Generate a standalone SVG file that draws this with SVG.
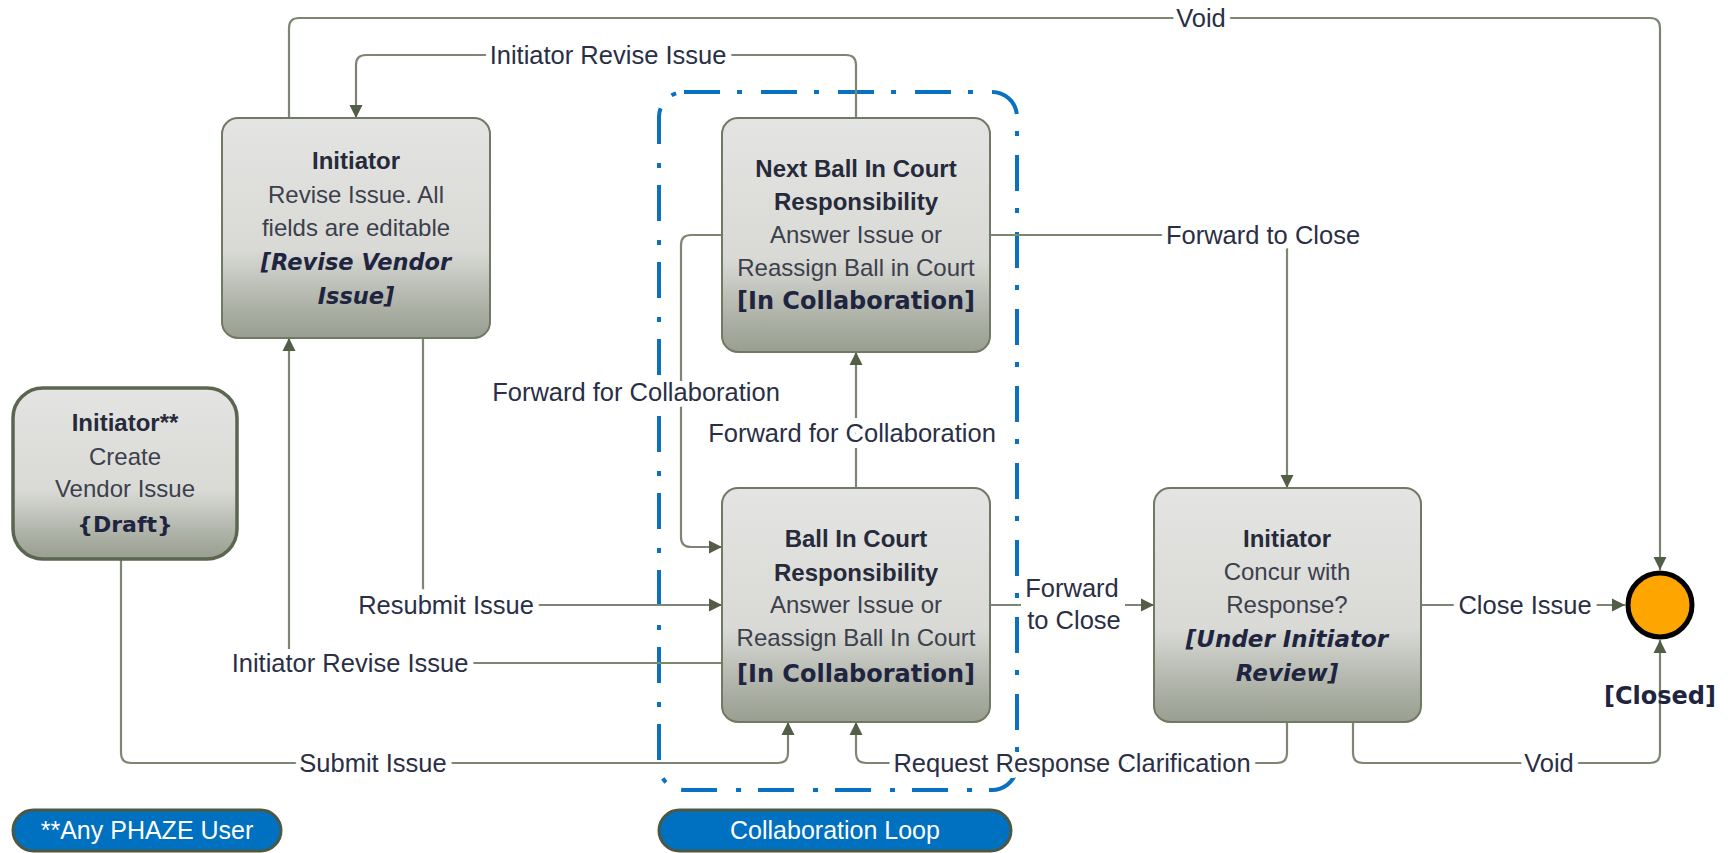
<svg xmlns="http://www.w3.org/2000/svg" width="1730" height="853" viewBox="0 0 1730 853">
  <defs>
    <linearGradient id="boxGrad" x1="0" y1="0" x2="0" y2="1">
      <stop offset="0" stop-color="#e4e5e2"/>
      <stop offset="0.6" stop-color="#d9dad6"/>
      <stop offset="0.85" stop-color="#aeb2a7"/>
      <stop offset="1" stop-color="#989e90"/>
    </linearGradient>
    <marker id="arrow" markerUnits="userSpaceOnUse" markerWidth="14" markerHeight="14" refX="13" refY="7" orient="auto">
      <path d="M0,0.5 L13,7 L0,13.5 z" fill="#525e45"/>
    </marker>
    <style>
      .box { fill: url(#boxGrad); stroke: #707963; stroke-width: 2; }
      .conn { fill: none; stroke: #7d8672; stroke-width: 2.2; }
      .title { font-family: "Liberation Sans", Arial, sans-serif; font-weight: bold; font-size: 24px; fill: #262a3a; text-anchor: middle; }
      .body { font-family: "Liberation Sans", Arial, sans-serif; font-size: 24px; fill: #3c404c; text-anchor: middle; }
      .status { font-family: "DejaVu Sans", sans-serif; font-weight: bold; font-size: 24px; fill: #1f2540; text-anchor: middle; }
      .ital { font-style: oblique; }
      .label { font-family: "Liberation Sans", Arial, sans-serif; font-size: 25.5px; fill: #2a2f45; text-anchor: middle; stroke: #ffffff; stroke-width: 12; paint-order: stroke; stroke-linejoin: round; }
      .legend { fill: #0070c0; stroke: #4d5843; stroke-width: 3; }
      .legendText { font-family: "Liberation Sans", Arial, sans-serif; font-size: 25px; fill: #ffffff; text-anchor: middle; }
      .loop { fill: none; stroke: #0a70c0; stroke-width: 4; stroke-dasharray: 36 17 5 19; }
    </style>
  </defs>

  <rect width="1730" height="853" fill="#ffffff"/>

  <!-- Collaboration loop boundary -->
  <rect id="collab-loop" class="loop" x="659" y="92" width="358" height="698" rx="25" ry="25"/>

  <!-- Connectors -->
  <g id="connectors">
    <path class="conn" d="M289,118 V28 Q289,18 299,18 H1650 Q1660,18 1660,28 V570" marker-end="url(#arrow)"/>
    <path class="conn" d="M856,118 V65 Q856,55 846,55 H366 Q356,55 356,65 V118" marker-end="url(#arrow)"/>
    <path class="conn" d="M990,235 H1277 Q1287,235 1287,245 V488" marker-end="url(#arrow)"/>
    <path class="conn" d="M722,235 H691 Q681,235 681,245 V537 Q681,547 691,547 H722" marker-end="url(#arrow)"/>
    <path class="conn" d="M856,488 V352" marker-end="url(#arrow)"/>
    <path class="conn" d="M423,338 V595 Q423,605 433,605 H722" marker-end="url(#arrow)"/>
    <path class="conn" d="M722,663 H299 Q289,663 289,653 V338" marker-end="url(#arrow)"/>
    <path class="conn" d="M121,559 V753 Q121,763 131,763 H778 Q788,763 788,753 V722" marker-end="url(#arrow)"/>
    <path class="conn" d="M990,605 H1154" marker-end="url(#arrow)"/>
    <path class="conn" d="M1421,605 H1625" marker-end="url(#arrow)"/>
    <path class="conn" d="M1287,722 V753 Q1287,763 1277,763 H866 Q856,763 856,753 V722" marker-end="url(#arrow)"/>
    <path class="conn" d="M1353,722 V753 Q1353,763 1363,763 H1650 Q1660,763 1660,753 V640" marker-end="url(#arrow)"/>

    <text class="label" x="1201" y="27">Void</text>
    <text class="label" x="608" y="64">Initiator Revise Issue</text>
    <text class="label" x="1263" y="244">Forward to Close</text>
    <text class="label" x="636" y="401">Forward for Collaboration</text>
    <text class="label" x="852" y="442">Forward for Collaboration</text>
    <text class="label" x="446" y="614">Resubmit Issue</text>
    <text class="label" x="350" y="672">Initiator Revise Issue</text>
    <text class="label" x="373" y="772">Submit Issue</text>
    <rect x="1021" y="574" width="104" height="60" fill="#ffffff"/>
    <text class="label" x="1072" y="597">Forward</text>
    <text class="label" x="1074" y="629">to Close</text>
    <text class="label" x="1525" y="614">Close Issue</text>
    <text class="label" x="1072" y="772">Request Response Clarification</text>
    <text class="label" x="1549" y="772">Void</text>
  </g>

  <!-- Nodes -->
  <g id="node-create">
    <rect x="13" y="388" width="224" height="171" rx="30" ry="30" fill="url(#boxGrad)" stroke="#5b6650" stroke-width="3.5"/>
    <text class="title" x="125" y="431">Initiator**</text>
    <text class="body" x="125" y="465">Create</text>
    <text class="body" x="125" y="497">Vendor Issue</text>
    <text class="status" x="125" y="532" style="font-size:22px">{Draft}</text>
  </g>

  <g id="node-revise">
    <rect class="box" x="222" y="118" width="268" height="220" rx="16" ry="16"/>
    <text class="title" x="356" y="169">Initiator</text>
    <text class="body" x="356" y="203">Revise Issue. All</text>
    <text class="body" x="356" y="236">fields are editable</text>
    <text class="status ital" x="356" y="270" style="font-size:22.5px">[Revise Vendor</text>
    <text class="status ital" x="356" y="304" style="font-size:22.5px">Issue]</text>
  </g>

  <g id="node-next-bic">
    <rect class="box" x="722" y="118" width="268" height="234" rx="16" ry="16"/>
    <text class="title" x="856" y="177">Next Ball In Court</text>
    <text class="title" x="856" y="210">Responsibility</text>
    <text class="body" x="856" y="243">Answer Issue or</text>
    <text class="body" x="856" y="276">Reassign Ball in Court</text>
    <text class="status" x="856" y="309">[In Collaboration]</text>
  </g>

  <g id="node-bic">
    <rect class="box" x="722" y="488" width="268" height="234" rx="16" ry="16"/>
    <text class="title" x="856" y="547">Ball In Court</text>
    <text class="title" x="856" y="581">Responsibility</text>
    <text class="body" x="856" y="613">Answer Issue or</text>
    <text class="body" x="856" y="646">Reassign Ball In Court</text>
    <text class="status" x="856" y="682">[In Collaboration]</text>
  </g>

  <g id="node-review">
    <rect class="box" x="1154" y="488" width="267" height="234" rx="16" ry="16"/>
    <text class="title" x="1287" y="547">Initiator</text>
    <text class="body" x="1287" y="580">Concur with</text>
    <text class="body" x="1287" y="613">Response?</text>
    <text class="status ital" x="1287" y="647" style="font-size:23px">[Under Initiator</text>
    <text class="status ital" x="1287" y="681" style="font-size:23px">Review]</text>
  </g>

  <g id="node-closed">
    <circle cx="1660" cy="605" r="32" fill="#ffa500" stroke="#000000" stroke-width="5"/>
    <text class="status" x="1660" y="704">[Closed]</text>
  </g>

  <!-- Legends -->
  <g id="legend-any-user">
    <rect class="legend" x="13" y="810" width="268" height="41" rx="20.5" ry="20.5"/>
    <text class="legendText" x="147" y="839">**Any PHAZE User</text>
  </g>
  <g id="legend-collab-loop">
    <rect class="legend" x="659" y="810" width="352" height="41" rx="20.5" ry="20.5"/>
    <text class="legendText" x="835" y="839">Collaboration Loop</text>
  </g>
</svg>
